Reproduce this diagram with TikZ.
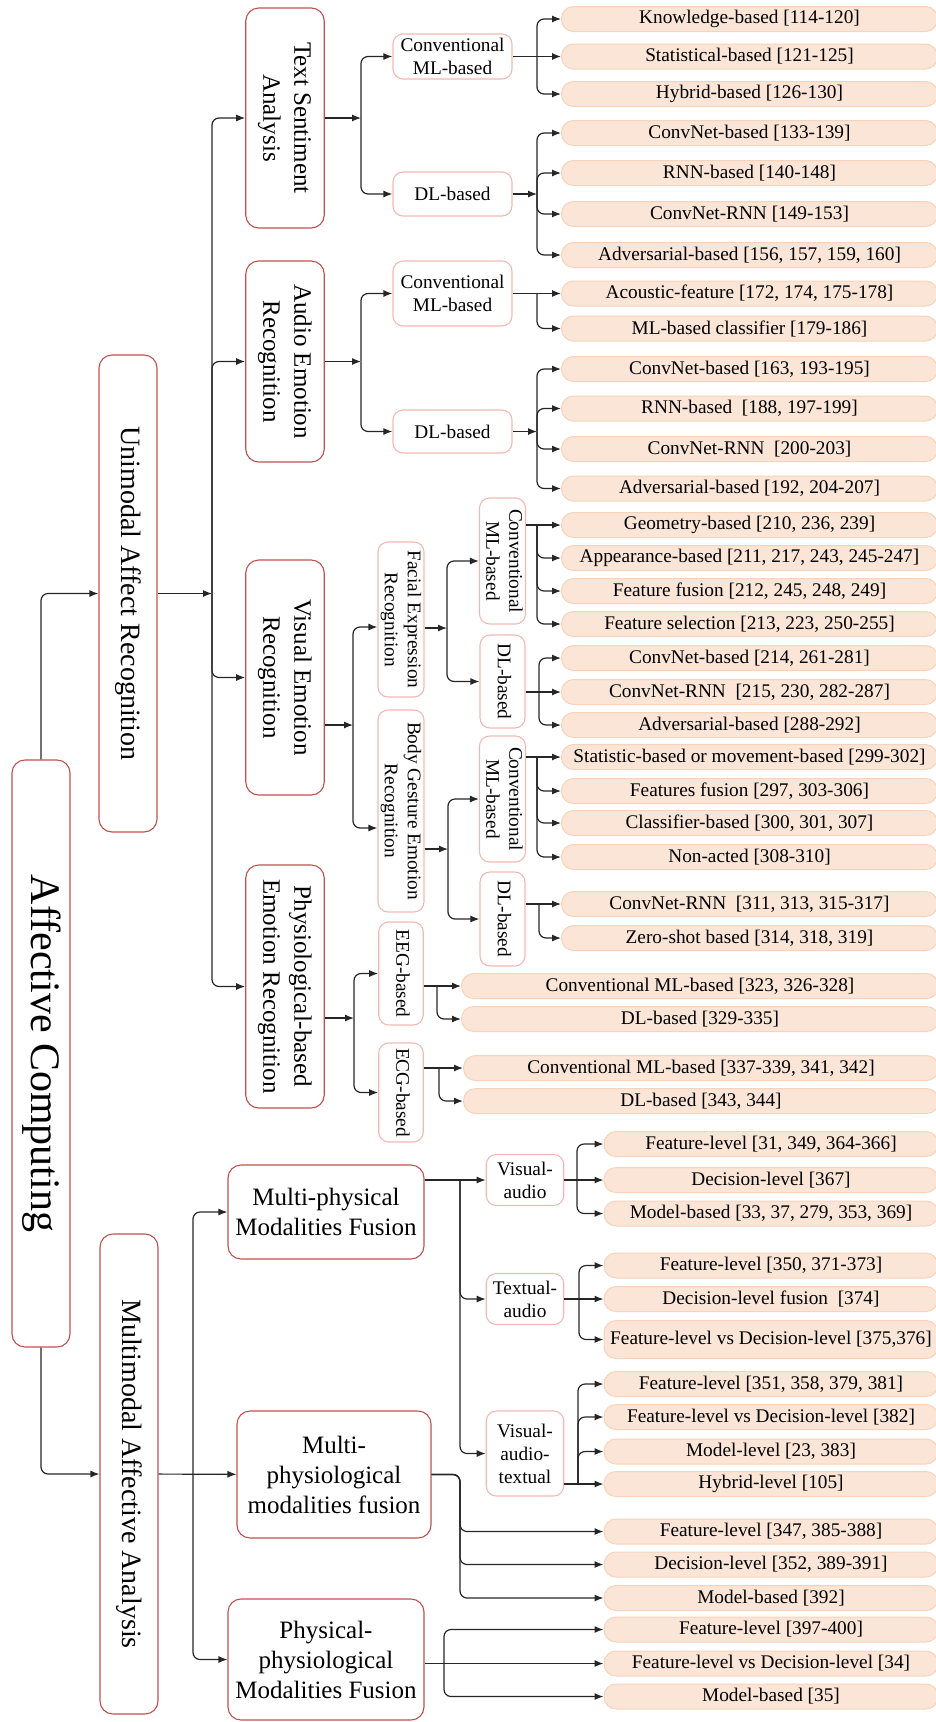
\documentclass[tikz,border=0pt]{standalone}
\usepackage{fontspec}
\setmainfont{Liberation Serif}
\usepackage{graphicx}
\usetikzlibrary{arrows.meta}
\definecolor{boxred}{HTML}{C0504D}
\definecolor{boxpink}{HTML}{F2B9B3}
\definecolor{leaffill}{HTML}{FBE5D6}
\definecolor{leafline}{HTML}{F7D3BC}
\def\vt#1{\rotatebox{-90}{\begin{tabular}{@{}c@{}}#1\end{tabular}}}
\tikzset{
  topbox/.style={draw=boxred, line width=1.1pt, rounded corners=13pt, inner sep=0pt, align=center},
  midbox/.style={draw=boxpink, line width=1.1pt, rounded corners=10pt, inner sep=0pt, align=center, font=\fontsize{19.3}{23}\selectfont},
  leafbox/.style={draw=leafline, fill=leaffill, line width=1pt, rounded corners=12pt, inner sep=0pt, anchor=west, minimum width=376pt, minimum height=25pt, font=\fontsize{19.3}{23}\selectfont},
  sz/.style 2 args={minimum width=#1pt, minimum height=#2pt},
  arr/.style={-{Latex[length=9pt,width=7pt]}, line width=1.2pt, draw=black!85},
  elbow/.style={arr, rounded corners=7pt},
}

\begin{document}
\begin{tikzpicture}[x=1pt,y=-1pt]
\useasboundingbox (0,0) rectangle (935,1722);

%%%%% ROOT %%%%%
\node[topbox, sz={58}{587}, font=\fontsize{42}{48}\selectfont] (ac) at (41,1053.5) {\vt{Affective Computing}};
\node[topbox, sz={58}{477}, font=\fontsize{28}{33}\selectfont] (uar) at (128,593.5) {\vt{Unimodal Affect Recognition}};
\node[topbox, sz={58}{480}, font=\fontsize{28}{33}\selectfont] (maa) at (129,1474) {\vt{Multimodal Affective Analysis}};
\draw[elbow] (ac.north) |- (uar.west);
\draw[elbow] (ac.south) |- (maa.west);

%%%%% UNIMODAL %%%%%
\node[topbox, sz={78.5}{220}, font=\fontsize{25}{31}\selectfont] (tsa) at (285,118) {\vt{Text Sentiment\\Analysis}};
\node[topbox, sz={78.5}{201}, font=\fontsize{25}{31}\selectfont] (aer) at (285,361.5) {\vt{Audio Emotion\\Recognition}};
\node[topbox, sz={78.5}{235}, font=\fontsize{25}{31}\selectfont] (ver) at (285,677.5) {\vt{Visual Emotion\\Recognition}};
\node[topbox, sz={78.5}{243}, font=\fontsize{25}{31}\selectfont] (per) at (285,986.5) {\vt{Physiological-based\\Emotion Recognition}};
\coordinate (ju) at (212,593.5);
\draw[arr] (uar) -- (ju);
\foreach \n in {tsa,aer,ver,per} \draw[elbow] (ju) |- (\n.west);

% text sentiment
\node[midbox, sz={119}{45}] (tcml) at (452.5,56.5) {Conventional\\ML-based};
\node[midbox, sz={119}{44}] (tdl) at (452.5,194) {DL-based};
\coordinate (jt) at (361,118);
\draw[arr] (tsa) -- (jt);
\foreach \n in {tcml,tdl} \draw[elbow] (jt) |- (\n.west);

\node[leafbox] (t1) at (561,19) {Knowledge-based [114-120]};
\node[leafbox] (t2) at (561,56.5) {Statistical-based [121-125]};
\node[leafbox] (t3) at (561,94) {Hybrid-based [126-130]};
\node[leafbox] (t4) at (561,133) {ConvNet-based [133-139]};
\node[leafbox] (t5) at (561,173) {RNN-based [140-148]};
\node[leafbox] (t6) at (561,214) {ConvNet-RNN [149-153]};
\node[leafbox] (t7) at (561,255) {Adversarial-based [156, 157, 159, 160]};
\coordinate (jt1) at (537,56.5);
\draw[arr] (tcml) -- (t2);
\foreach \n in {t1,t3} \draw[elbow] (jt1) |- (\n.west);
\coordinate (jt2) at (537,194);
\draw[arr] (tdl) -- (jt2);
\foreach \n in {t4,t5,t6,t7} \draw[elbow] (jt2) |- (\n.west);

% audio
\node[midbox, sz={119}{65}] (acml) at (452.5,293.5) {Conventional\\ML-based};
\node[midbox, sz={119}{43}] (adl) at (452.5,431.5) {DL-based};
\coordinate (ja) at (361,361.5);
\draw[arr] (aer) -- (ja);
\foreach \n in {acml,adl} \draw[elbow] (ja) |- (\n.west);

\node[leafbox] (a1) at (561,293.5) {Acoustic-feature [172, 174, 175-178]};
\node[leafbox] (a2) at (561,328.5) {ML-based classifier [179-186]};
\node[leafbox] (a3) at (561,369) {ConvNet-based [163, 193-195]};
\node[leafbox] (a4) at (561,408.5) {RNN-based\ \ [188, 197-199]};
\node[leafbox] (a5) at (561,449) {ConvNet-RNN\ \ [200-203]};
\node[leafbox] (a6) at (561,488.5) {Adversarial-based [192, 204-207]};
\coordinate (ja1) at (537,293.5);
\draw[arr] (acml) -- (a1);
\draw[elbow] (ja1) |- (a2.west);
\coordinate (ja2) at (537,431.5);
\draw[arr] (adl) -- (ja2);
\foreach \n in {a3,a4,a5,a6} \draw[elbow] (ja2) |- (\n.west);

% visual
\node[midbox, sz={44.5}{155}] (fer) at (401,619.5) {\vt{Facial Expression\\Recognition}};
\node[midbox, sz={44.5}{202}] (bger) at (401,811) {\vt{Body Gesture Emotion\\Recognition}};
\coordinate (jv) at (353,725);
\draw[arr] (ver.east |- jv) -- (jv);
\draw[elbow] (jv) |- ([yshift=-7.5pt]fer.west);
\draw[elbow] (jv) |- ([yshift=-17pt]bger.west);

\node[midbox, sz={45}{126}] (fcml) at (502.5,561) {\vt{Conventional\\ML-based}};
\node[midbox, sz={45}{93}] (fdl) at (502.5,681.5) {\vt{DL-based}};
\coordinate (jf) at (447,628);
\draw[arr] (fer.east |- jf) -- (jf);
\foreach \n in {fcml,fdl} \draw[elbow] (jf) |- (\n.west);

\node[midbox, sz={45}{126}] (bcml) at (502.5,799) {\vt{Conventional\\ML-based}};
\node[midbox, sz={45}{94}] (bdl) at (502.5,919) {\vt{DL-based}};
\coordinate (jb) at (448,849);
\draw[arr] (bger.east |- jb) -- (jb);
\foreach \n in {bcml,bdl} \draw[elbow] (jb) |- (\n.west);

\node[leafbox] (f1) at (561,525) {Geometry-based [210, 236, 239]};
\node[leafbox] (f2) at (561,558) {Appearance-based [211, 217, 243, 245-247]};
\node[leafbox] (f3) at (561,591) {Feature fusion [212, 245, 248, 249]};
\node[leafbox] (f4) at (561,624) {Feature selection [213, 223, 250-255]};
\node[leafbox] (f5) at (561,658) {ConvNet-based [214, 261-281]};
\node[leafbox] (f6) at (561,692) {ConvNet-RNN\ \ [215, 230, 282-287]};
\node[leafbox] (f7) at (561,725) {Adversarial-based [288-292]};
\draw[arr] (fcml.east |- f1) -- (f1);
\coordinate (jf1) at (537,525);
\foreach \n in {f2,f3,f4} \draw[elbow] (jf1) |- (\n.west);
\draw[arr] (fdl.east |- f6) -- (f6);
\coordinate (jf2) at (539,692);
\foreach \n in {f5,f7} \draw[elbow] (jf2) |- (\n.west);

\node[leafbox] (g1) at (561,757) {Statistic-based or movement-based [299-302]};
\node[leafbox] (g2) at (561,791) {Features fusion [297, 303-306]};
\node[leafbox] (g3) at (561,823) {Classifier-based [300, 301, 307]};
\node[leafbox] (g4) at (561,857) {Non-acted [308-310]};
\node[leafbox] (g5) at (561,904) {ConvNet-RNN\ \ [311, 313, 315-317]};
\node[leafbox] (g6) at (561,938) {Zero-shot based [314, 318, 319]};
\draw[arr] (bcml.east |- g1) -- (g1);
\coordinate (jg1) at (537,757);
\foreach \n in {g2,g3,g4} \draw[elbow] (jg1) |- (\n.west);
\draw[arr] (bdl.east |- g5) -- (g5);
\coordinate (jg2) at (539,904);
\draw[elbow] (jg2) |- (g6.west);

% physiological
\node[midbox, sz={44.5}{103}] (eeg) at (401,973.5) {\vt{EEG-based}};
\node[midbox, sz={44.5}{99}] (ecg) at (401,1092.5) {\vt{ECG-based}};
\coordinate (jp) at (354,1018);
\draw[arr] (per.east |- jp) -- (jp);
\foreach \n in {eeg,ecg} \draw[elbow] (jp) |- (\n.west);

\node[leafbox, minimum width=477pt] (e1) at (461,986) {Conventional ML-based [323, 326-328]};
\node[leafbox, minimum width=477pt] (e2) at (461,1019) {DL-based [329-335]};
\draw[arr] (eeg.east |- e1) -- (e1);
\coordinate (je) at (437,986);
\draw[elbow] (je) |- (e2.west);
\node[leafbox, minimum width=475pt] (c1) at (463,1068) {Conventional ML-based [337-339, 341, 342]};
\node[leafbox, minimum width=475pt] (c2) at (463,1101) {DL-based [343, 344]};
\draw[arr] (ecg.east |- c1) -- (c1);
\coordinate (jc) at (439,1068);
\draw[elbow] (jc) |- (c2.west);

%%%%% MULTIMODAL %%%%%
\node[topbox, sz={196}{94}, font=\fontsize{25}{30}\selectfont] (mpf) at (326,1212) {Multi-physical\\Modalities Fusion};
\node[topbox, sz={194}{127}, font=\fontsize{25}{30}\selectfont] (mphf) at (334,1474.5) {Multi-\\physiological\\modalities fusion};
\node[topbox, sz={196}{121}, font=\fontsize{25}{30}\selectfont] (ppf) at (326,1659.5) {Physical-\\physiological\\Modalities Fusion};
\coordinate (jm) at (193,1474);
\draw[arr] (maa) -- (mphf);
\foreach \n in {mpf,ppf} \draw[elbow] (jm) |- (\n.west);

% multi-physical
\node[midbox, sz={77.5}{51}] (va) at (525,1180) {Visual-\\audio};
\node[midbox, sz={77.5}{51}] (ta) at (525,1299) {Textual-\\audio};
\node[midbox, sz={77.5}{85}] (vat) at (525,1453.5) {Visual-\\audio-\\textual};
\coordinate (jmp) at (460,1180);
\draw[arr] (mpf.east |- va) -- (va);
\foreach \n in {ta,vat} \draw[elbow] (jmp) |- (\n.west);

\node[leafbox, minimum width=334pt] (v1) at (603.5,1144) {Feature-level [31, 349, 364-366]};
\node[leafbox, minimum width=334pt] (v2) at (603.5,1180) {Decision-level [367]};
\node[leafbox, minimum width=334pt] (v3) at (603.5,1213.5) {Model-based [33, 37, 279, 353, 369]};
\draw[arr] (va) -- (v2);
\coordinate (jv1) at (577,1180);
\foreach \n in {v1,v3} \draw[elbow] (jv1) |- (\n.west);

\node[leafbox, minimum width=334pt] (x1) at (603.5,1265.5) {Feature-level [350, 371-373]};
\node[leafbox, minimum width=334pt] (x2) at (603.5,1299) {Decision-level fusion\ \ [374]};
\node[leafbox, minimum width=334pt, minimum height=38pt] (x3) at (603.5,1339.5) {Feature-level vs Decision-level [375,376]};
\draw[arr] (ta) -- (x2);
\coordinate (jx) at (579,1299);
\foreach \n in {x1,x3} \draw[elbow] (jx) |- (\n.west);

\node[leafbox, minimum width=334pt] (w1) at (603.5,1384) {Feature-level [351, 358, 379, 381]};
\node[leafbox, minimum width=334pt] (w2) at (603.5,1417) {Feature-level vs Decision-level [382]};
\node[leafbox, minimum width=334pt] (w3) at (603.5,1451.5) {Model-level [23, 383]};
\node[leafbox, minimum width=334pt] (w4) at (603.5,1484) {Hybrid-level [105]};
\draw[arr] (vat.east |- w4) -- (w4);
\coordinate (jw) at (578,1484);
\foreach \n in {w1,w2,w3} \draw[elbow] (jw) |- (\n.west);

% multi-physiological
\node[leafbox, minimum width=334pt] (h1) at (603.5,1531.5) {Feature-level [347, 385-388]};
\node[leafbox, minimum width=334pt] (h2) at (603.5,1564.5) {Decision-level [352, 389-391]};
\node[leafbox, minimum width=334pt] (h3) at (603.5,1598) {Model-based [392]};
\coordinate (jh) at (460,1474.5);
\foreach \n in {h1,h2,h3} \draw[elbow] (mphf.east) -- (jh) |- (\n.west);

% physical-physiological
\node[leafbox, minimum width=334pt] (p1) at (603.5,1629.5) {Feature-level [397-400]};
\node[leafbox, minimum width=334pt] (p2) at (603.5,1663.5) {Feature-level vs Decision-level [34]};
\node[leafbox, minimum width=334pt] (p3) at (603.5,1696.5) {Model-based [35]};
\draw[arr] (ppf.east |- p2) -- (p2);
\coordinate (jpp) at (444,1663.5);
\foreach \n in {p1,p3} \draw[elbow] (jpp) |- (\n.west);

\end{tikzpicture}
\end{document}
